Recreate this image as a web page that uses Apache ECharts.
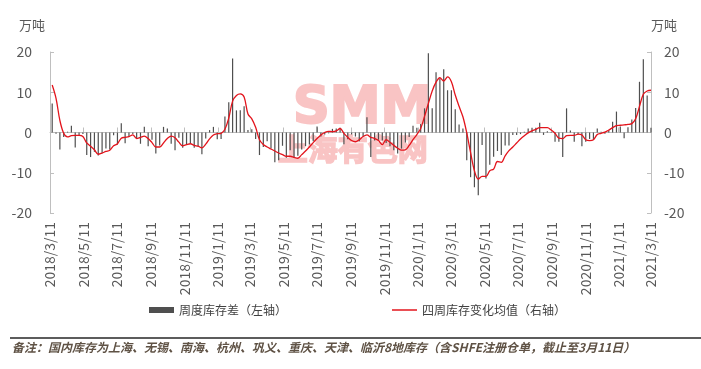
<!DOCTYPE html>
<html>
<head>
<meta charset="utf-8">
<script src="https://cdn.jsdelivr.net/npm/echarts@6/dist/echarts.min.js"></script>
<style>
html,body{margin:0;padding:0;background:#fff;}
#chart{width:701px;height:369px;}
</style>
</head>
<body>
<div id="chart"></div>
<script>
// ---- data ----
const axisStart = '2018-03-11';
const axisEnd = '2021-03-11';
const firstWeek = '2018-03-15';
const tickLabels = ['2018/3/11','2018/5/11','2018/7/11','2018/9/11','2018/11/11','2019/1/11','2019/3/11','2019/5/11','2019/7/11','2019/9/11','2019/11/11','2020/1/11','2020/3/11','2020/5/11','2020/7/11','2020/9/11','2020/11/11','2021/1/11','2021/3/11'];
const weeklyDiff = [
 7.2,-0.3,-4.2,-1.1,0.2,1.7,-3.7,-0.6,-0.4,-5.6,
 -6.1,-4.8,-5.7,-5.1,-4.0,-4.2,-0.7,-3.0,2.3,-2.7,
 -1.1,-0.4,-1.6,-2.8,1.4,-3.4,-1.8,-5.2,-3.2,1.4,
 1.0,-2.8,-4.4,-1.3,-3.8,-3.1,-2.7,-3.8,-3.5,-5.4,
 -1.5,0.6,1.4,-1.7,-1.6,4.0,7.5,18.4,5.5,5.5,
 6.5,0.6,0.8,-1.6,-5.6,-3.6,-2.2,-4.0,-7.4,-6.9,
 -3.3,-6.3,-4.4,-6.3,-5.8,-4.2,-3.4,-3.0,-2.2,1.5,
 -1.0,-0.5,-0.2,0.9,1.0,1.2,-2.9,-1.7,-0.5,-1.0,
 -2.2,-1.0,3.8,-6.1,-2.0,-1.8,-2.0,-2.6,-3.4,-4.4,
 -5.2,-4.0,-2.5,-1.1,1.7,1.2,2.1,6.0,19.7,6.0,
 15.0,13.4,15.7,10.5,10.5,5.8,2.0,1.0,-6.9,-11.1,
 -13.6,-15.6,-3.1,-11.4,-8.0,-6.0,-4.6,-5.6,-3.2,-3.2,
 -0.6,-0.6,-0.4,0.2,1.0,1.2,1.2,2.4,-0.6,0.3,
 0.1,-2.3,-2.3,-6.1,6.0,0.5,-2.3,-0.5,-3.4,-2.3,
 -1.6,-1.6,1.0,0.2,-0.3,0.5,2.7,5.2,1.5,-1.4,
 1.3,3.2,6.1,12.6,18.2,9.2,1.2
];
const fourWeekAvg = [
 11.8,8.5,3.0,-0.2,-1.1,-0.8,-0.7,-0.7,-1.0,-2.6,
 -3.4,-4.3,-5.4,-5.1,-4.7,-4.4,-3.3,-2.8,-1.4,-1.2,
 -1.0,-0.6,-1.5,-1.2,-0.9,-1.5,-2.5,-3.6,-3.6,-2.6,
 -1.5,-0.9,-1.3,-2.4,-3.3,-3.0,-2.8,-3.2,-3.4,-3.8,
 -2.9,-1.6,-0.6,-0.3,-0.2,0.8,3.6,7.8,9.2,9.6,
 8.8,4.6,3.4,1.3,-1.8,-3.0,-3.6,-4.1,-4.6,-5.1,
 -5.5,-5.9,-5.9,-6.2,-6.4,-5.5,-4.6,-3.6,-2.5,-1.5,
 -0.6,0.0,0.3,0.2,0.4,1.0,-0.2,-1.2,-2.0,-2.3,
 -1.8,-1.0,-0.6,-1.2,-1.5,-2.0,-3.0,-1.8,-2.4,-3.2,
 -3.9,-4.4,-4.3,-3.2,-1.8,-0.5,1.0,4.0,7.2,10.3,
 12.5,13.6,12.8,13.8,12.6,9.3,6.5,3.9,-0.1,-5.0,
 -9.5,-11.6,-10.9,-10.9,-9.5,-9.1,-7.2,-7.4,-5.8,-4.5,
 -3.6,-2.6,-1.6,-0.8,-0.1,0.4,0.8,1.2,1.2,1.2,
 0.6,-0.2,-1.4,-1.5,-0.8,-0.7,-0.7,-0.4,-0.6,-1.8,
 -2.0,-1.8,-0.5,-0.2,0.1,0.6,1.2,1.7,1.8,1.9,
 2.0,2.2,3.4,6.5,9.5,10.3,10.5
];
const barName = '周度库存差（左轴）';
const lineName = '四周库存变化均值（右轴）';
const noteText = '备注：国内库存为上海、无锡、南海、杭州、巩义、重庆、天津、临沂8地库存（含SHFE注册仓单，截止至3月11日）';

// ---- build categories (one per day) ----
const DAY = 86400000;
function parse(s){const p=s.split('-').map(Number);return Date.UTC(p[0],p[1]-1,p[2]);}
function fmt(t){const d=new Date(t);return d.getUTCFullYear()+'/'+(d.getUTCMonth()+1)+'/'+d.getUTCDate();}
const days=[];
for(let t=parse(axisStart);t<=parse(axisEnd);t+=DAY){days.push(fmt(t));}
const weekDates = weeklyDiff.map((_,i)=>fmt(parse(firstWeek)+i*7*DAY));
const tickSet = new Set(tickLabels);
const showTick = (idx,val)=>tickSet.has(val);

const FONT = '"Noto Sans CJK SC", "Noto Sans", sans-serif';
const WM = '#f9c4c4';
const chart = echarts.init(document.getElementById('chart'), null, {renderer:'canvas'});
chart.setOption({
  animation:false,
  backgroundColor:'#fff',
  textStyle:{fontFamily:FONT},
  grid:{left:50,right:50,top:52,bottom:156,containLabel:false},
  legend:[
    {data:[{name:barName,icon:'rect'}],left:149,top:304,padding:0,itemWidth:25,itemHeight:6,itemGap:0,
     textStyle:{color:'#404040',fontSize:12,fontFamily:FONT}},
    {data:[{name:lineName,icon:'rect'}],left:392,top:304,padding:0,itemWidth:25,itemHeight:1.5,itemGap:0,
     textStyle:{color:'#404040',fontSize:12,fontFamily:FONT}}
  ],
  xAxis:[
    {type:'category',data:days,boundaryGap:false,position:'bottom',
     axisLine:{show:false,onZero:false},axisTick:{show:false},splitLine:{show:false},
     axisLabel:{interval:showTick,rotate:90,margin:9,color:'#595959',fontSize:14,fontFamily:FONT}},
    {type:'category',data:days,boundaryGap:false,position:'bottom',
     axisLine:{show:true,onZero:true,lineStyle:{color:'#bfbfbf',width:1}},
     axisTick:{show:true,inside:true,length:5,interval:showTick,lineStyle:{color:'#bfbfbf'}},
     axisLabel:{show:false},splitLine:{show:false}}
  ],
  yAxis:[
    {type:'value',min:-20,max:20,interval:10,position:'left',
     axisLine:{show:true,lineStyle:{color:'#bfbfbf'}},
     axisTick:{show:true,inside:true,length:4,lineStyle:{color:'#bfbfbf'}},
     splitLine:{show:false},
     axisLabel:{color:'#595959',fontSize:14,margin:18,fontFamily:FONT}},
    {type:'value',min:-20,max:20,interval:10,position:'right',
     axisLine:{show:true,lineStyle:{color:'#bfbfbf'}},
     axisTick:{show:true,inside:true,length:4,lineStyle:{color:'#bfbfbf'}},
     splitLine:{show:false},
     axisLabel:{color:'#595959',fontSize:14,margin:13,fontFamily:FONT}}
  ],
  graphic:{elements:[
    {type:'text',left:292,top:83,z:-1,silent:true,style:{text:'SMM',font:'bold 51px "DejaVu Sans", sans-serif',fill:WM,stroke:WM,lineWidth:2}},
    {type:'text',left:277,top:133,z:-1,silent:true,style:{text:'上海有色网',font:'bold 30px "Noto Sans CJK SC", sans-serif',fill:WM,stroke:WM,lineWidth:1.5}},
    {type:'text',left:19,top:19,style:{text:'万吨',font:'13px '+FONT,fill:'#595959'}},
    {type:'text',left:651,top:19,style:{text:'万吨',font:'13px '+FONT,fill:'#595959'}},
    {type:'line',shape:{x1:10,y1:338,x2:701,y2:338},style:{stroke:'#262626',lineWidth:1.5}},
    {type:'text',left:12,top:341,style:{text:noteText,font:'italic bold 12px '+FONT,fill:'#5f5245'}}
  ]},
  series:[
    {name:barName,type:'bar',xAxisIndex:0,yAxisIndex:0,barWidth:1.2,z:3,
     itemStyle:{color:'#4f4f4f'},
     data:weekDates.map((d,i)=>[d,weeklyDiff[i]])},
    {name:lineName,type:'line',xAxisIndex:0,yAxisIndex:1,smooth:0.35,symbol:'none',z:4,
     itemStyle:{color:'#e3141c'},lineStyle:{color:'#e3141c',width:1.3},
     data:weekDates.map((d,i)=>[d,fourWeekAvg[i]])}
  ]
});
</script>
</body>
</html>
